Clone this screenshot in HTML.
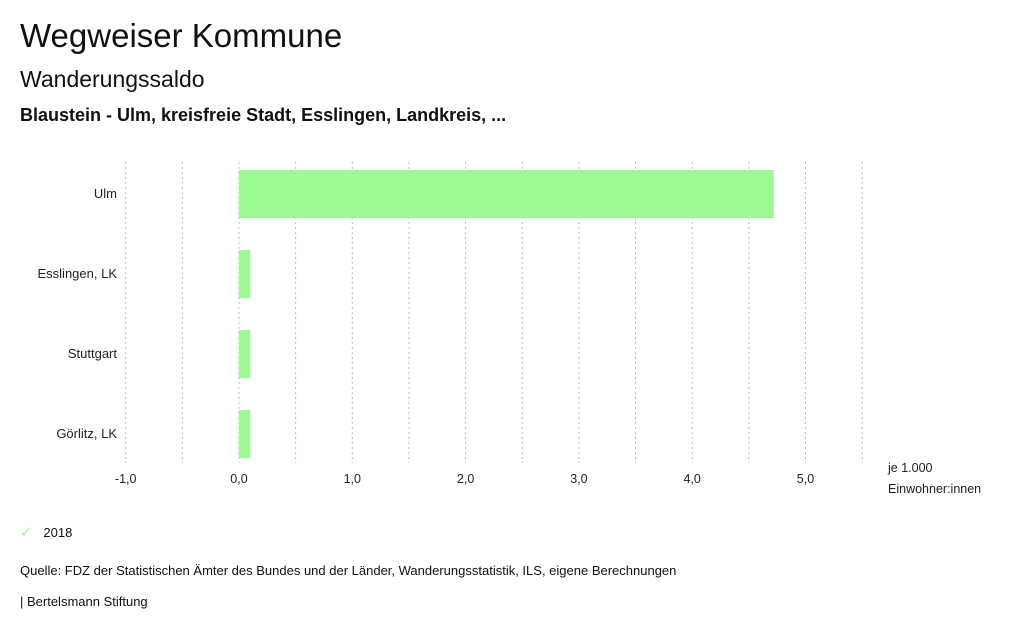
<!DOCTYPE html>
<html><head><meta charset="utf-8">
<style>
body{margin:0;width:1024px;height:634px;background:#fff;font-family:"Liberation Sans",sans-serif;color:#111;position:relative;overflow:hidden}
.t{position:absolute;white-space:nowrap}
</style></head><body>
<div class="t" style="left:20px;top:17px;font-size:33px">Wegweiser Kommune</div>
<div class="t" style="left:20px;top:66px;font-size:23px">Wanderungssaldo</div>
<div class="t" style="left:20px;top:105px;font-size:18px;font-weight:600">Blaustein - Ulm, kreisfreie Stadt, Esslingen, Landkreis, ...</div>
<svg id="chart" width="1024" height="634" style="position:absolute;left:0;top:0"></svg>
<div class="t" style="left:20px;top:523px;font-size:13px"><span style="color:#9cf994;font-size:15px">✓</span>&nbsp;&nbsp;&nbsp;2018</div>
<div class="t" style="left:20px;top:563px;font-size:13px">Quelle: FDZ der Statistischen Ämter des Bundes und der Länder, Wanderungsstatistik, ILS, eigene Berechnungen</div>
<div class="t" style="left:20px;top:594px;font-size:13px">| Bertelsmann Stiftung</div>
<script>
const categories=["Ulm","Esslingen, LK","Stuttgart","Görlitz, LK"];
const values=[4.72,0.1,0.1,0.1];
const ticks=[-1,0,1,2,3,4,5];
const gridVals=[-1,-0.5,0,0.5,1,1.5,2,2.5,3,3.5,4,4.5,5,5.5];
const NS="http://www.w3.org/2000/svg";
const svg=document.getElementById('chart');
const x=v=>239+v*113.3;
const yTop=i=>170+i*80;
function el(t,a){const e=document.createElementNS(NS,t);for(const k in a)e.setAttribute(k,a[k]);svg.appendChild(e);return e;}
gridVals.forEach(v=>{
  const g=el('line',{x1:x(v),x2:x(v),y1:162,y2:463,stroke:'#bbb','stroke-dasharray':'2,3','stroke-width':1});
  
  
});
categories.forEach((c,i)=>{
  const v=values[i];
  const r=el('rect',{x:Math.min(x(0),x(v)),y:yTop(i),width:Math.abs(x(v)-x(0)),height:48,fill:'#9cf994'});
  
  
  const t=el('text',{x:117,y:yTop(i)+28,'text-anchor':'end','font-size':13,fill:'#222','font-family':'Liberation Sans, sans-serif'});
  t.textContent=c;
  
  
});
ticks.forEach(v=>{
  const t=el('text',{x:x(v),y:483,'text-anchor':'middle','font-size':12.5,fill:'#222','font-family':'Liberation Sans, sans-serif'});
  t.textContent=v.toFixed(1).replace('.',',');
  
  
});
const u1=el('text',{x:888,y:472,'font-size':12.5,fill:'#222','font-family':'Liberation Sans, sans-serif'});u1.textContent='je 1.000';


const u2=el('text',{x:888,y:493,'font-size':12.5,fill:'#222','font-family':'Liberation Sans, sans-serif'});u2.textContent='Einwohner:innen';


</script>
</body></html>
